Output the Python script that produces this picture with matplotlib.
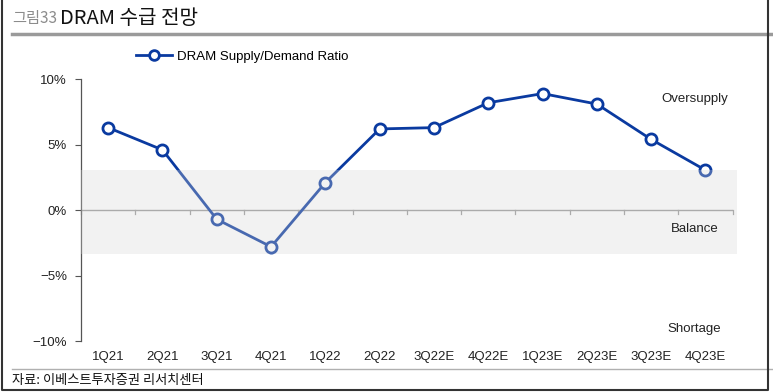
import matplotlib
matplotlib.use("Agg")
import matplotlib.pyplot as plt
from matplotlib.lines import Line2D

plt.rcParams['font.family'] = ['Liberation Sans', 'Noto Sans CJK KR', 'DejaVu Sans']

quarters = ["1Q21", "2Q21", "3Q21", "4Q21", "1Q22", "2Q22", "3Q22E", "4Q22E",
            "1Q23E", "2Q23E", "3Q23E", "4Q23E"]
ratio = [6.3, 4.6, -0.7, -2.8, 2.1, 6.2, 6.3, 8.2, 8.9, 8.1, 5.4, 3.05]
balance_band = (-3.35, 3.05)
yticks = [10, 5, 0, -5, -10]
ytick_labels = ["10%", "5%", "0%", "\u22125%", "\u221210%"]

BLUE = "#0a3aa0"
TXT = "#222222"

fig = plt.figure(figsize=(7.73, 3.92), dpi=100)
ax = fig.add_axes([0.1048, 0.130, 0.843, 0.668])

x = list(range(len(quarters)))
ax.plot(x, ratio, color=BLUE, lw=2, marker="o", ms=8, mfc="white", mec=BLUE,
        mew=2, zorder=3, clip_on=False)
# band drawn over line so the line looks lighter inside it
ax.axhspan(*balance_band, xmin=0, xmax=1.006, color="#d5d5d5", alpha=0.31,
           lw=0, zorder=4, clip_on=False)

ax.set_xlim(-0.5, len(quarters) - 0.5)
ax.set_ylim(-10, 10)

# zero line with category boundary ticks
ax.axhline(0, color="#999999", lw=1, zorder=2)
for b in range(len(quarters) + 1):
    ax.plot([b - 0.5, b - 0.5], [0, -0.3], color="#999999", lw=0.9, zorder=2,
            clip_on=False)

for s in ["top", "right", "bottom"]:
    ax.spines[s].set_visible(False)
ax.spines["left"].set_color("#555555")
ax.spines["left"].set_linewidth(0.9)

ax.set_yticks(yticks)
ax.set_yticklabels(ytick_labels)
ax.tick_params(axis="y", length=4, width=0.8, color="#555555", labelsize=9.5,
               pad=6, labelcolor=TXT)
ax.set_xticks(x)
ax.set_xticklabels(quarters)
ax.tick_params(axis="x", length=0, labelsize=9.5, pad=7, labelcolor=TXT)

for yv, lbl in [(8.5, "Oversupply"), (-1.45, "Balance"), (-9.1, "Shortage")]:
    ax.text(10.8, yv, lbl, ha="center", va="center", fontsize=9.5, color=TXT,
            zorder=6)

# legend
leg_handle = Line2D([], [], color=BLUE, lw=2, marker="o", ms=7, mfc="white",
                    mec=BLUE, mew=2)
fig.legend([leg_handle], ["DRAM Supply/Demand Ratio"], loc="center left",
           bbox_to_anchor=(0.160, 0.855), frameon=False, fontsize=9.5,
           handlelength=2.8, handletextpad=0.35)

# title, rules, footer, frame
fig.text(0.0155, 0.953, "그림33", fontsize=11, color="#8c8c8c", va="center",
         family=["Noto Sans CJK KR"])
fig.text(0.078, 0.953, "DRAM 수급 전망", fontsize=14.5, color="#111111", va="center",
         family=["Noto Sans CJK KR"])
fig.add_artist(Line2D([0.0155, 1.0], [0.913, 0.913], color="#9a9a9a", lw=2.5))
fig.add_artist(Line2D([0.0155, 1.0], [0.058, 0.058], color="#b0b0b0", lw=1))
fig.text(0.0155, 0.03, "자료: 이베스트투자증권 리서치센터", fontsize=9.5, color="#111111",
         va="center", family=["Noto Sans CJK KR"])
fig.add_artist(Line2D([0.003, 0.003, 0.994, 0.994], [1.0, 0.006, 0.006, 1.0],
                      color="#333333", lw=1.5))

fig.savefig("out.png", dpi=100)
